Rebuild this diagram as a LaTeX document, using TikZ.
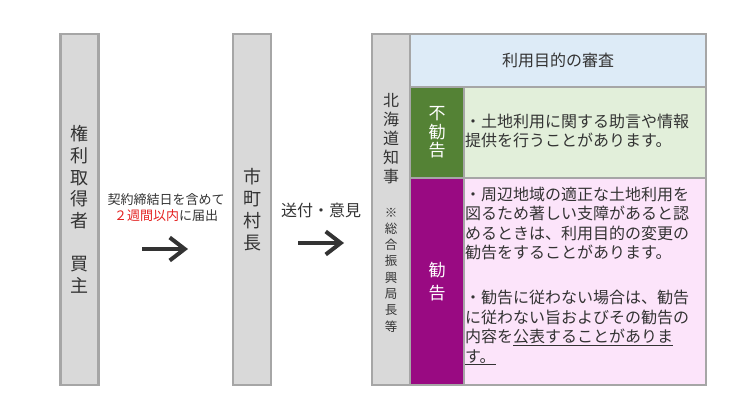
\documentclass[tikz,border=0pt]{standalone}
\usepackage{fontspec}
\setmainfont{Noto Sans CJK JP}
\usepackage{xcolor}
\usetikzlibrary{arrows.meta}
\definecolor{framegray}{HTML}{A6A6A6}
\definecolor{cellgray}{HTML}{D9D9D9}
\definecolor{headblue}{HTML}{DDEBF7}
\definecolor{okgreen}{HTML}{548235}
\definecolor{oklight}{HTML}{E2EFDA}
\definecolor{advpurple}{HTML}{990A82}
\definecolor{advpink}{HTML}{FCE4FA}
\definecolor{inkgray}{HTML}{333333}
\definecolor{notered}{HTML}{E3201F}

\begin{document}
\begin{tikzpicture}[x=1pt,y=-1pt,
  cell/.style={draw=framegray,line width=2.2pt,inner sep=0pt,outer sep=0pt,
    text=inkgray,align=center},
  actor/.style={cell,fill=cellgray,minimum width=38,minimum height=351},
  flow/.style={line width=4pt,draw=inkgray,line cap=butt,
    -{Straight Barb[length=15pt,width=23pt]}},
  note/.style={text=inkgray,inner sep=0pt,align=center}]
  \useasboundingbox (0,0) rectangle (741,415);
  % the three parties
  \node[actor,font=\fontsize{18}{21.7}\selectfont] (buyer) at (79.5,209.5)
    {権\\利\\取\\得\\者\\[21.7pt]買\\主};
  \node[actor,font=\fontsize{18}{22}\selectfont] (mayor) at (252,209.5)
    {市\\町\\村\\長};
  \node[actor] (governor) at (391,209.5) {};
  \node[note,font=\fontsize{16}{18.8}\selectfont] (govname) at (391,138.5)
    {北\\海\\道\\知\\事};
  \node[note,font=\fontsize{12.5}{16.3}\selectfont] (govnote) at (391,270)
    {※\\総\\合\\振\\興\\局\\長\\等};
  % review table
  \node[cell,fill=headblue,minimum width=296,minimum height=53,
    font=\fontsize{16}{19}\selectfont] (review) at (558,60.5) {利用目的の審査};
  \node[cell,fill=okgreen,minimum width=54,minimum height=91,text=white,
    font=\fontsize{17}{18.3}\selectfont] (nolabel) at (437,132.5) {不\\勧\\告};
  \node[cell,fill=oklight,minimum width=242,minimum height=91] (nobody) at (585,132.5) {};
  \node[cell,fill=advpurple,minimum width=54,minimum height=207,text=white,
    font=\fontsize{17}{23}\selectfont] (advlabel) at (437,281.5) {勧\\告};
  \node[cell,fill=advpink,minimum width=242,minimum height=207] (advbody) at (585,281.5) {};
  \draw[framegray,line width=2.2pt] (governor.north west) rectangle (advbody.south east);
  \node[note,anchor=west,align=left,font=\fontsize{16}{19}\selectfont] (notext)
    at (465,131) {・土地利用に関する助言や情報\\提供を行うことがあります。};
  \node[note,anchor=west,align=left,font=\fontsize{16}{19.5}\selectfont] (advtext)
    at (465,276) {・周辺地域の適正な土地利用を\\図るため著しい支障があると認\\%
      めるときは、利用目的の変更の\\勧告をすることがあります。\\[25.5pt]%
      ・勧告に従わない場合は、勧告\\に従わない旨およびその勧告の\\%
      内容を\underline{公表することがありま}\\\underline{す。}};
  % hand-over steps
  \node[note,font=\fontsize{13}{15.5}\selectfont] (deadline) at (166,207.5)
    {契約締結日を含めて\\{\color{notered}２週間以内}に届出};
  \node[note,font=\fontsize{16}{19}\selectfont] (sending) at (321,210) {送付・意見};
  \coordinate (step1a) at (142,249);
  \coordinate (step1b) at (188,249);
  \coordinate (step2a) at (298,243);
  \coordinate (step2b) at (344,243);
  \draw[flow] (step1a) -- (step1b);
  \draw[flow] (step2a) -- (step2b);
\end{tikzpicture}
\end{document}
